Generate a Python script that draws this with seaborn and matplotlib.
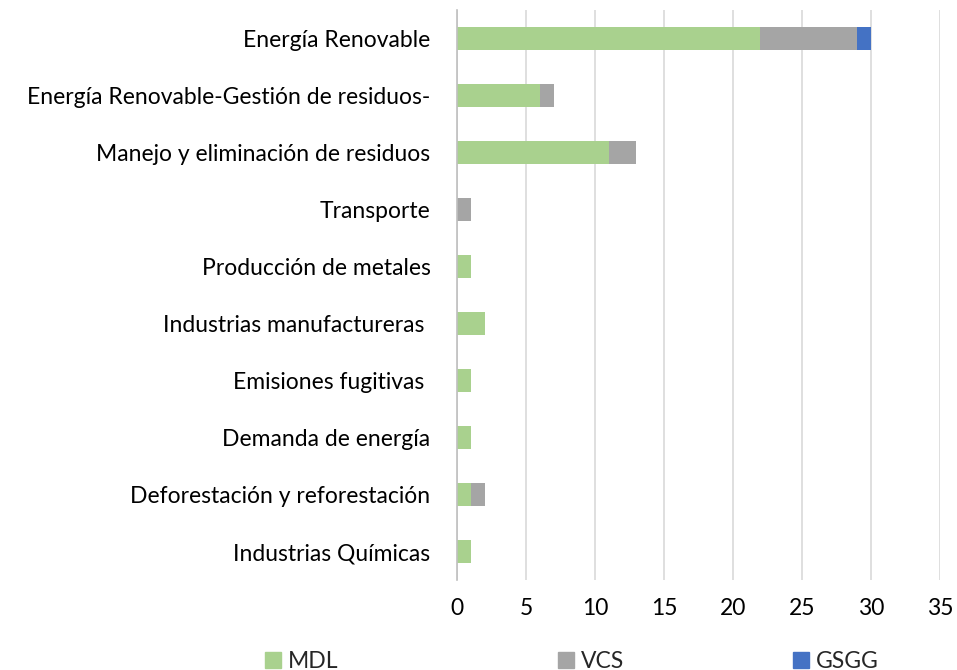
import numpy as np
import pandas as pd
import seaborn as sns
import matplotlib.pyplot as plt
from matplotlib.patches import Patch

categorias = ['Energía Renovable', 'Energía Renovable-Gestión de residuos-',
              'Manejo y eliminación de residuos', 'Transporte',
              'Producción de metales', 'Industrias manufactureras ',
              'Emisiones fugitivas ', 'Demanda de energía',
              'Deforestación y reforestación', 'Industrias Químicas']
mdl = [22, 6, 11, 0, 1, 2, 1, 1, 1, 1]
vcs = [7, 1, 2, 1, 0, 0, 0, 0, 1, 0]
gsgg = [1, 0, 0, 0, 0, 0, 0, 0, 0, 0]

colores = {'MDL': '#A9D18E', 'VCS': '#A5A5A5', 'GSGG': '#4472C4'}

sns.set_style('white')
plt.rcParams['font.family'] = ['Lato', 'DejaVu Sans']

df = pd.DataFrame({'cat': categorias, 'MDL': mdl, 'VCS': vcs, 'GSGG': gsgg})
df['t_vcs'] = df['MDL'] + df['VCS']
df['t_gsgg'] = df['t_vcs'] + df['GSGG']

fig = plt.figure(figsize=(9.57, 6.7), dpi=100)
ax = fig.add_axes([0.4775, 0.134, 0.5045, 0.851])

# stacked bars: draw cumulative totals back to front
for col, serie in [('t_gsgg', 'GSGG'), ('t_vcs', 'VCS'), ('MDL', 'MDL')]:
    sns.barplot(data=df, x=col, y='cat', color=colores[serie], width=0.4,
                orient='h', saturation=1, linewidth=0, ax=ax)

ax.set_xlim(0, 35)
ax.set_xticks(range(0, 36, 5))
ax.set_ylim(9.5, -0.5)
ax.set_xlabel('')
ax.set_ylabel('')
ax.xaxis.grid(True, color='#D9D9D9', linewidth=1.2)
ax.set_axisbelow(True)
for s in ['top', 'right', 'bottom']:
    ax.spines[s].set_visible(False)
ax.spines['left'].set_color('#BFBFBF')
ax.spines['left'].set_linewidth(1.2)
ax.tick_params(axis='both', length=0, labelsize=16.5, colors='#000000')
ax.tick_params(axis='y', pad=19)
ax.tick_params(axis='x', pad=13)

# legend entries spread out like the original
for serie, xpos in [('MDL', 0.258), ('VCS', 0.564), ('GSGG', 0.809)]:
    leg = fig.legend([Patch(color=colores[serie])], [serie], loc='lower left',
                     bbox_to_anchor=(xpos, -0.03), frameon=False,
                     fontsize=16.5, handlelength=0.7, handleheight=0.7,
                     handletextpad=0.3, borderpad=0.3)

fig.savefig('out.png', dpi=100)
